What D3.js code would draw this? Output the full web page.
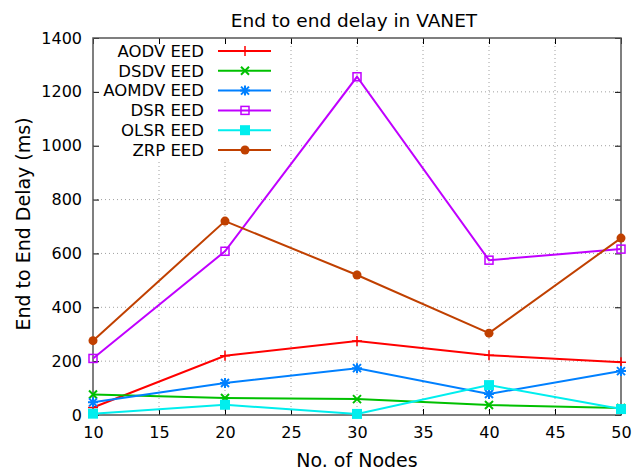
<!DOCTYPE html>
<html>
<head>
<meta charset="utf-8">
<title>End to end delay in VANET</title>
<script src="https://cdn.jsdelivr.net/npm/d3@7"></script>
<style>
  body { margin: 0; background: #fff; }
  text { font-family: "DejaVu Sans", sans-serif; fill: #000; }
  .grid line { stroke: #a0a0a0; stroke-width: 1; stroke-dasharray: 1,3; }
</style>
</head>
<body>
<svg id="chart" width="632" height="472"></svg>
<script>
  // data
  nodes = [10, 20, 30, 40, 50];
  aodv = [28, 220, 275, 222, 196];
  dsdv = [76, 63, 59, 37, 26];
  aomdv = [47, 119, 174, 78, 163];
  dsr = [210, 608, 1256, 575, 616];
  olsr = [5, 38, 4, 111, 22];
  zrp = [276, 720, 520, 304, 657];
  xTicks = [10, 15, 20, 25, 30, 35, 40, 45, 50];
  yTicks = [0, 200, 400, 600, 800, 1000, 1200, 1400];

  series = [
    { name: "AODV EED", values: aodv, color: "#ff0000", mark: "plus" },
    { name: "DSDV EED", values: dsdv, color: "#00c000", mark: "cross" },
    { name: "AOMDV EED", values: aomdv, color: "#0080ff", mark: "star" },
    { name: "DSR EED", values: dsr, color: "#c000ff", mark: "box" },
    { name: "OLSR EED", values: olsr, color: "#00eeee", mark: "boxfill" },
    { name: "ZRP EED", values: zrp, color: "#c04000", mark: "circle" }
  ];

  chart = d3.select("#chart");
  margin = { top: 38, right: 11, bottom: 57, left: 93 };
  width = 632;
  height = 472;

  x = d3.scaleLinear().domain([10, 50]).range([margin.left, width - margin.right]);
  y = d3.scaleLinear().domain([0, 1400]).range([height - margin.bottom, margin.top]);

  // grid
  grid = chart.append("g").attr("class", "grid");
  grid.selectAll(".vx")
    .data(xTicks.slice(1, -1))
    .join("line")
      .attr("x1", function(d) { return x(d); })
      .attr("x2", function(d) { return x(d); })
      .attr("y1", y(0))
      .attr("y2", y(1400));
  grid.selectAll(".hy")
    .data(yTicks.slice(1, -1))
    .join("line")
      .attr("x1", x(10))
      .attr("x2", x(50))
      .attr("y1", function(d) { return y(d); })
      .attr("y2", function(d) { return y(d); });

  // legend box hides the grid behind it
  chart.append("rect")
    .attr("x", x(10) + 1)
    .attr("y", y(1400) + 1)
    .attr("width", 186)
    .attr("height", 122)
    .attr("fill", "#fff");

  // axes (ticks pointing in, mirrored)
  function styleAxis(g) {
    g.select(".domain").remove();
    g.selectAll(".tick line").attr("stroke", "#000");
    g.selectAll("text").style("font-size", "16px");
  }
  chart.append("g")
    .attr("transform", "translate(0," + y(0) + ")")
    .call(d3.axisBottom(x).tickValues(xTicks).tickSize(-6).tickPadding(12).tickFormat(d3.format("d")))
    .call(styleAxis);
  chart.append("g")
    .attr("transform", "translate(0," + y(1400) + ")")
    .call(d3.axisTop(x).tickValues(xTicks).tickSize(-6).tickFormat(""))
    .call(styleAxis);
  chart.append("g")
    .attr("transform", "translate(" + x(10) + ",0)")
    .call(d3.axisLeft(y).tickValues(yTicks).tickSize(-6).tickPadding(11).tickFormat(d3.format("d")))
    .call(styleAxis);
  chart.append("g")
    .attr("transform", "translate(" + x(50) + ",0)")
    .call(d3.axisRight(y).tickValues(yTicks).tickSize(-6).tickFormat(""))
    .call(styleAxis);

  chart.append("rect")
    .attr("x", x(10))
    .attr("y", y(1400))
    .attr("width", x(50) - x(10))
    .attr("height", y(0) - y(1400))
    .attr("fill", "none")
    .attr("stroke", "#555")
    .attr("stroke-width", 1.5);

  // markers
  function drawMark(g, kind, color) {
    if (kind == "plus") {
      g.append("path").attr("d", "M-5,0H5M0,-5V5").attr("stroke", color).attr("stroke-width", 1.5);
    } else if (kind == "cross") {
      g.append("path").attr("d", "M-4,-4L4,4M-4,4L4,-4").attr("stroke", color).attr("stroke-width", 2);
    } else if (kind == "star") {
      g.append("path").attr("d", "M-5,0H5M0,-5V5M-4,-4L4,4M-4,4L4,-4").attr("stroke", color).attr("stroke-width", 2);
    } else if (kind == "box") {
      g.append("rect").attr("x", -4).attr("y", -4).attr("width", 8).attr("height", 8)
        .attr("fill", "none").attr("stroke", color).attr("stroke-width", 1.5);
    } else if (kind == "boxfill") {
      g.append("rect").attr("x", -5).attr("y", -5).attr("width", 10).attr("height", 10).attr("fill", color);
    } else {
      g.append("circle").attr("r", 4.5).attr("fill", color);
    }
  }

  line = d3.line()
    .x(function(d, i) { return x(nodes[i]); })
    .y(function(d) { return y(d); });

  series.forEach(function(s) {
    chart.append("path")
      .attr("d", line(s.values))
      .attr("fill", "none")
      .attr("stroke", s.color)
      .attr("stroke-width", 2);
    s.values.forEach(function(v, i) {
      g = chart.append("g").attr("transform", "translate(" + x(nodes[i]) + "," + y(v) + ")");
      drawMark(g, s.mark, s.color);
    });
  });

  // legend
  series.forEach(function(s, i) {
    ly = 51 + i * 19.8;
    chart.append("text")
      .attr("x", 204)
      .attr("y", ly)
      .attr("dy", "0.35em")
      .attr("text-anchor", "end")
      .style("font-size", "16.5px")
      .text(s.name);
    chart.append("line")
      .attr("x1", 218).attr("x2", 271)
      .attr("y1", ly).attr("y2", ly)
      .attr("stroke", s.color)
      .attr("stroke-width", 2);
    drawMark(chart.append("g").attr("transform", "translate(245," + ly + ")"), s.mark, s.color);
  });

  // titles
  chart.append("text")
    .attr("x", 354).attr("y", 27)
    .attr("text-anchor", "middle")
    .style("font-size", "18.5px")
    .text("End to end delay in VANET");
  chart.append("text")
    .attr("x", 357).attr("y", 467)
    .attr("text-anchor", "middle")
    .style("font-size", "19px")
    .text("No. of Nodes");
  chart.append("text")
    .attr("transform", "translate(30," + 224 + ") rotate(-90)")
    .attr("text-anchor", "middle")
    .style("font-size", "19px")
    .text("End to End Delay (ms)");
</script>
</body>
</html>
